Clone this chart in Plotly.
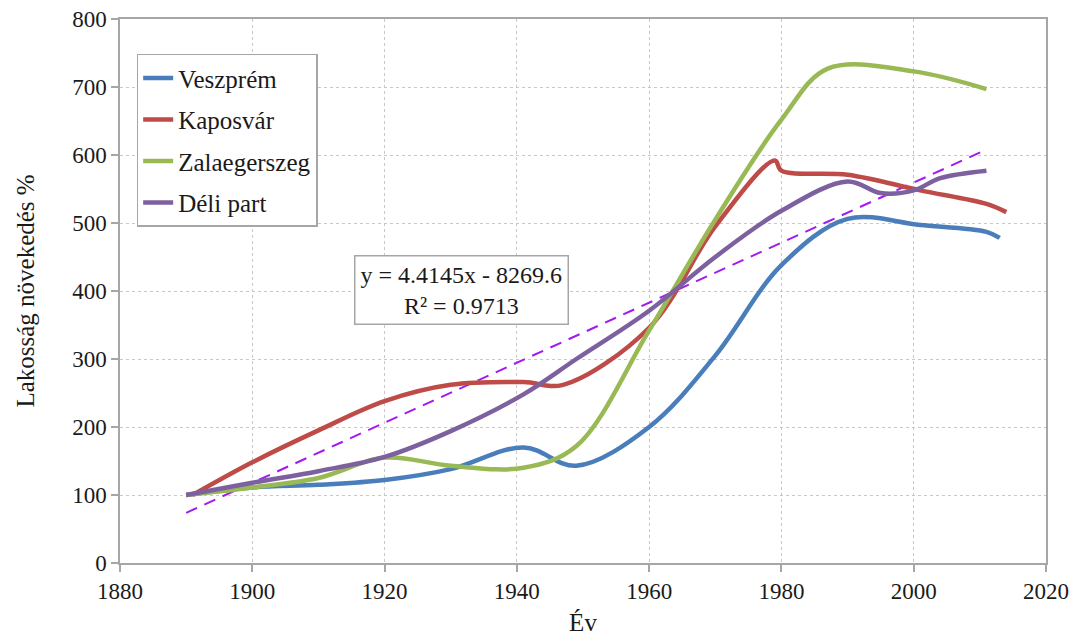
import plotly.graph_objects as go

# Population growth (%) relative to the first census year
veszprem_years = [1890, 1900, 1910, 1920, 1930, 1941, 1949, 1960, 1970, 1980, 1990, 2001, 2011, 2013]
veszprem = [100, 111, 115, 122, 138, 170, 143, 200, 305, 438, 506, 497, 487, 478]

kaposvar_years = [1891, 1900, 1910, 1920, 1930, 1941, 1947, 1960, 1970, 1979, 1980, 1990, 2001, 2011, 2014]
kaposvar = [100, 148, 195, 238, 262, 266, 262, 346, 495, 592, 577, 571, 548, 528, 516]

zalaegerszeg_years = [1890, 1900, 1910, 1920, 1930, 1941, 1949, 1960, 1970, 1980, 1987, 2000, 2011]
zalaegerszeg = [100, 111, 125, 155, 143, 140, 172, 342, 505, 652, 727, 723, 697]

deli_years = [1890, 1900, 1910, 1920, 1930, 1941, 1949, 1960, 1970, 1980, 1990, 1995, 2000, 2004, 2011]
deli = [100, 118, 135, 156, 194, 248, 300, 371, 450, 518, 561, 544, 548, 566, 577]

# Linear trend fitted to the whole data set
trend_slope = 4.4145
trend_intercept = -8269.6
trend_r2 = 0.9713
trend_years = [1890, 2011]

series = [
    ("Veszprém", veszprem_years, veszprem, "#4A7EBB"),
    ("Kaposvár", kaposvar_years, kaposvar, "#BE4B48"),
    ("Zalaegerszeg", zalaegerszeg_years, zalaegerszeg, "#98B954"),
    ("Déli part", deli_years, deli, "#7D60A0"),
]

FONT = "Liberation Serif"
TEXT = "#1a1a1a"
fig = go.Figure()

trend_values = [trend_slope * x + trend_intercept for x in trend_years]
fig.add_trace(go.Scatter(
    x=trend_years, y=trend_values, mode="lines", showlegend=False,
    line=dict(color="#A21AF0", width=2, dash="12px,8px"), hoverinfo="skip",
))

for i, (name, xs, ys, color) in enumerate(series):
    fig.add_trace(go.Scatter(
        x=xs, y=ys, mode="lines", name=name, legendgroup=f"g{i}",
        line=dict(color=color, width=4.5, shape="spline", smoothing=1.0),
    ))

sign = "-" if trend_intercept < 0 else "+"
eq_text = f"y = {trend_slope}x {sign} {abs(trend_intercept)}<br>R² = {trend_r2}"
fig.add_annotation(
    x=1931.7, y=402, xref="x", yref="y", text=eq_text, showarrow=False,
    font=dict(family=FONT, size=24, color=TEXT), align="center",
    bgcolor="white", bordercolor="#a6a6a6", borderwidth=1.5, borderpad=5,
)

axis_common = dict(
    showline=True, linecolor="#a6a6a6", linewidth=1.5, mirror=True,
    showgrid=True, gridcolor="#c8c8c8", griddash="dot", gridwidth=1,
    ticks="outside", ticklen=7, tickcolor="#a6a6a6", tickwidth=1.5,
    tickfont=dict(family=FONT, size=23, color=TEXT), zeroline=False,
    automargin=False,
)

fig.update_layout(
    width=1078, height=638,
    margin=dict(l=120, r=32, t=19, b=75),
    paper_bgcolor="white", plot_bgcolor="white",
    font=dict(family=FONT),
    xaxis=dict(range=[1880, 2020], dtick=20, **axis_common,
               title=dict(text="Év", font=dict(family=FONT, size=25, color=TEXT), standoff=10)),
    yaxis=dict(range=[0, 800], dtick=100, **axis_common,
               title=dict(text="Lakosság növekedés %", font=dict(family=FONT, size=25, color=TEXT), standoff=30)),
    legend=dict(
        x=0.018, y=0.936, xanchor="left", yanchor="top",
        bgcolor="white", bordercolor="#a6a6a6", borderwidth=1.5,
        font=dict(family=FONT, size=25, color=TEXT),
        tracegroupgap=6, traceorder="grouped",
    ),
    showlegend=True,
)

fig.write_html("out.html")
